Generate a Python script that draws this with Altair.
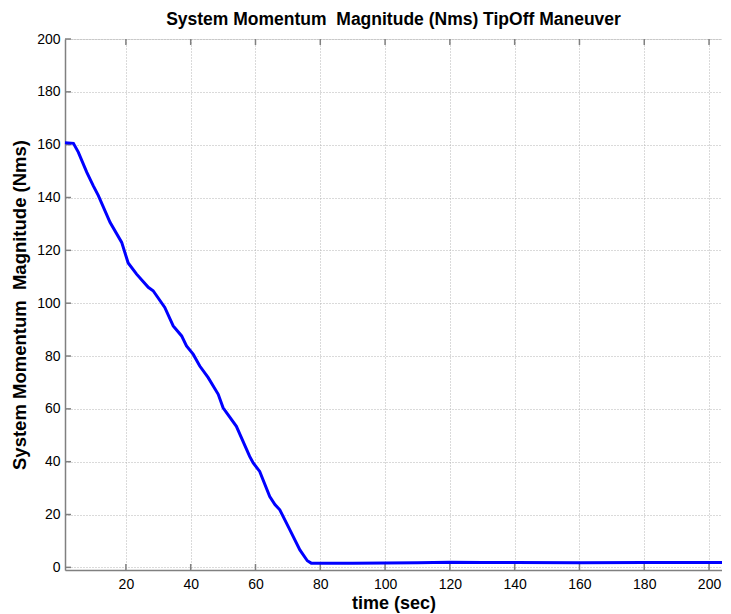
import altair as alt
import pandas as pd

# ---- data ----
time_sec = [1.2, 3.8, 5.3, 7.9, 9.9, 11.5, 15.1, 18.7, 20.7, 23.3, 26.9, 28.4,
            32.0, 34.6, 37.2, 38.7, 40.8, 42.8, 45.4, 48.5, 50.0, 54.1, 58.2,
            59.3, 61.3, 64.4, 66.0, 67.5, 70.5, 73.7, 76.0, 77.2, 90, 110,
            120, 130, 140, 160, 180, 204]
momentum = [160.7, 160.5, 157.2, 149.6, 144.5, 140.7, 130.6, 123.0, 115.2,
            111.0, 106.0, 104.7, 98.4, 91.4, 87.6, 83.8, 80.6, 76.2, 71.8,
            65.5, 60.4, 53.4, 42.0, 39.5, 36.3, 26.8, 23.8, 21.8, 14.5, 6.6,
            2.5, 1.6, 1.6, 1.7, 1.9, 1.8, 1.8, 1.7, 1.8, 1.8]
x_ticks = [20, 40, 60, 80, 100, 120, 140, 160, 180, 200]
y_ticks = [0, 20, 40, 60, 80, 100, 120, 140, 160, 180, 200]
x_domain = [1.2, 204]
y_domain = [-1, 200]

W, H = 657, 531
FONT = "Liberation Sans"

df = pd.DataFrame({"t": time_sec, "m": momentum})
dfx = pd.DataFrame({"t": x_ticks})
dfy = pd.DataFrame({"m": y_ticks})

xscale = alt.Scale(domain=x_domain, nice=False, zero=False)
yscale = alt.Scale(domain=y_domain, nice=False, zero=False)

xaxis = alt.Axis(values=x_ticks, title="time (sec)", grid=True, gridDash=[1, 2],
                 gridColor="#b4b4b4", ticks=False, labelPadding=7,
                 titlePadding=3, labelFontSize=14, titleFontSize=18,
                 titleFontWeight="bold", domainColor="#808080", domainWidth=1.5)
yaxis = alt.Axis(values=y_ticks, title="System Momentum\u00a0 Magnitude (Nms)",
                 grid=True, gridDash=[1, 2], gridColor="#b4b4b4", ticks=False,
                 labelPadding=5, titlePadding=7, labelFontSize=14,
                 titleFontSize=18.5, titleFontWeight="bold",
                 domainColor="#808080", domainWidth=1.5)

line = alt.Chart(df).mark_line(color="#0000ff", strokeWidth=3).encode(
    x=alt.X("t:Q", scale=xscale, axis=xaxis),
    y=alt.Y("m:Q", scale=yscale, axis=yaxis),
)

yt = alt.Chart(dfy).mark_rule(color="#808080", strokeWidth=1.5).encode(
    y=alt.Y("m:Q", scale=yscale), x=alt.value(0), x2=alt.value(6))
xb = alt.Chart(dfx).mark_rule(color="#808080", strokeWidth=1.5).encode(
    x=alt.X("t:Q", scale=xscale), y=alt.value(H), y2=alt.value(H - 6))
xt = alt.Chart(dfx).mark_rule(color="#808080", strokeWidth=1.5).encode(
    x=alt.X("t:Q", scale=xscale), y=alt.value(0), y2=alt.value(6))

chart = alt.layer(yt, xb, xt, line).properties(
    width=W, height=H,
    title=alt.TitleParams("System Momentum\u00a0 Magnitude (Nms) TipOff Maneuver",
                          fontSize=17.5, fontWeight="bold", font=FONT,
                          anchor="middle", offset=4, color="black"),
    autosize=alt.AutoSizeParams(type="none"),
    padding={"left": 57, "top": 31, "right": 0, "bottom": 44},
).configure_view(stroke="#808080", strokeWidth=1.5).configure_axis(
    labelFont=FONT, titleFont=FONT, labelColor="black", titleColor="black"
).configure(background="white")

chart.save("out.html", embed_options={"renderer": "svg", "actions": False})
